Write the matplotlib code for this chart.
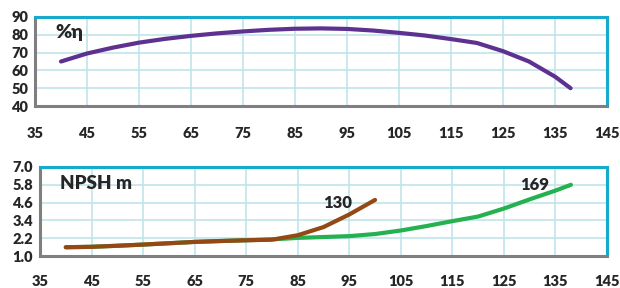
import matplotlib.pyplot as plt

# efficiency curve (%)
eff_q = [40, 45, 50, 55, 60, 65, 70, 75, 80, 85, 90, 95, 100, 105, 110, 115, 120, 125, 130, 135, 138]
eff_val = [65, 69.5, 72.8, 75.6, 77.7, 79.4, 80.8, 81.9, 82.8, 83.4, 83.6, 83.3, 82.4, 81.1, 79.6, 77.6, 75.4, 70.8, 65.0, 56.5, 50]

# NPSH curves (m)
npsh130_q = [40, 45, 50, 55, 60, 65, 70, 75, 80, 85, 90, 95, 100]
npsh130_val = [1.59, 1.62, 1.69, 1.77, 1.86, 1.95, 2.01, 2.06, 2.1, 2.4, 2.95, 3.8, 4.78]

npsh169_q = [40, 45, 50, 55, 60, 65, 70, 75, 80, 85, 90, 95, 100, 105, 110, 115, 120, 125, 130, 135, 138]
npsh169_val = [1.59, 1.62, 1.69, 1.77, 1.86, 1.95, 2.01, 2.06, 2.12, 2.22, 2.28, 2.34, 2.48, 2.72, 3.02, 3.35, 3.66, 4.2, 4.82, 5.41, 5.8]

x_ticks = list(range(35, 146, 10))
eff_ticks = [40, 50, 60, 70, 80, 90]
npsh_ticks = [1.0, 2.2, 3.4, 4.6, 5.8, 7.0]

GRID = "#bfe5ec"
BORDER = "#17aacd"
SHADOW = "#7f7f7f"
TXT = "#262626"
FONT = "Lato"


def style_axes(ax, yticks, ylabels, pad_x):
    ax.set_xlim(35, 145)
    ax.set_xticks(x_ticks)
    ax.set_xticklabels([str(t) for t in x_ticks])
    ax.set_ylim(yticks[0], yticks[-1])
    ax.set_yticks(yticks)
    ax.set_yticklabels(ylabels)
    ax.grid(True, color=GRID, linewidth=1.2)
    ax.set_axisbelow(True)
    ax.tick_params(length=0, labelsize=10.5, labelcolor=TXT)
    ax.tick_params(axis="x", pad=pad_x)
    ax.tick_params(axis="y", pad=5)
    for lab in ax.get_xticklabels() + ax.get_yticklabels():
        lab.set_fontweight("heavy")
        lab.set_family(FONT)
    ax.spines["top"].set_color(BORDER)
    ax.spines["right"].set_color(BORDER)
    ax.spines["left"].set_color(SHADOW)
    ax.spines["bottom"].set_color(SHADOW)
    for s in ax.spines.values():
        s.set_linewidth(2.2)


fig = plt.figure(figsize=(6.2, 2.88), dpi=100)

ax1 = fig.add_axes([35 / 620, 1 - 106 / 288, 572 / 620, 89 / 288])
ax1.plot(eff_q, eff_val, color="#5e3190", linewidth=3, solid_capstyle="round", solid_joinstyle="round")
style_axes(ax1, eff_ticks, [str(t) for t in eff_ticks], 15)
ax1.text(0.035, 0.83, "%η", transform=ax1.transAxes, fontsize=14, fontweight="heavy",
         color=TXT, family=FONT, va="center")

ax2 = fig.add_axes([40 / 620, 1 - 256 / 288, 567 / 620, 89 / 288])
ax2.plot(npsh169_q, npsh169_val, color="#25b14f", linewidth=3, solid_capstyle="round", solid_joinstyle="round")
ax2.plot(npsh130_q, npsh130_val, color="#944814", linewidth=3, solid_capstyle="round", solid_joinstyle="round")
style_axes(ax2, npsh_ticks, [f"{t:.1f}" for t in npsh_ticks], 14)
ax2.text(0.035, 0.82, "NPSH m", transform=ax2.transAxes, fontsize=13.5, fontweight="heavy",
         color=TXT, family=FONT, va="center")
ax2.text(92.8, 4.55, "130", fontsize=12, fontweight="heavy", color=TXT, family=FONT,
         ha="center", va="center")
ax2.text(131, 5.8, "169", fontsize=12, fontweight="heavy", color=TXT, family=FONT,
         ha="center", va="center")

fig.savefig("out.png", dpi=100)
